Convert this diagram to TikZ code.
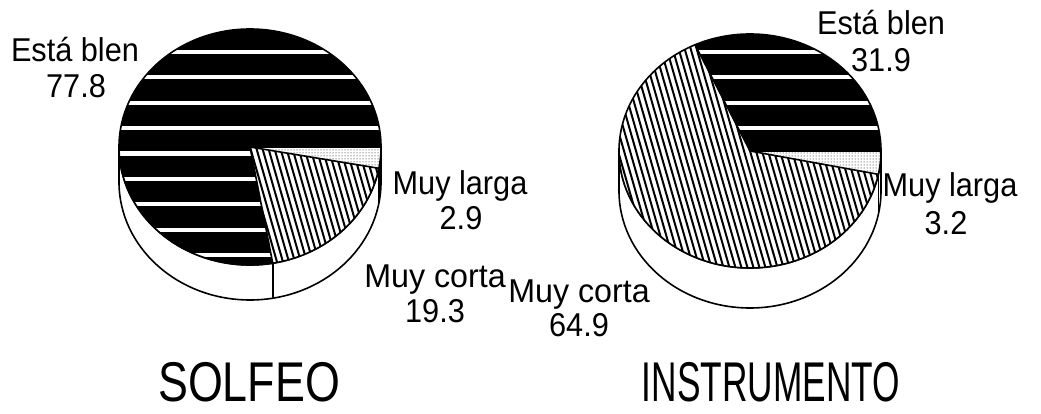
\documentclass[tikz,border=0pt]{standalone}
\usepackage{fontspec}
\setmainfont{Liberation Sans}
\newfontfamily\labfont{Liberation Sans}[FakeStretch=0.93]
\usetikzlibrary{patterns}
\begin{document}
\begin{tikzpicture}[x=1pt,y=1pt,
  outl/.style={black, line width=1.6pt, line join=round},
  stripe/.style={white, line width=4.2pt},
  hatchline/.style={black, line width=2pt},
  lab/.style={font=\labfont\fontsize{33}{36}\selectfont, inner sep=0pt, anchor=base},
  ttl/.style={font=\fontsize{56}{58}\selectfont, inner sep=0pt, text depth=0pt, anchor=base}]
\useasboundingbox (0,0) rectangle (1041,414);

% ---------------- left pie: SOLFEO ----------------
\begin{scope}[shift={(250,267)}]
  \draw[outl, fill=white] (-131,0) -- (-131,-35)
     arc[start angle=180,end angle=360,x radius=131,y radius=118] -- (131,0)
     arc[start angle=360,end angle=180,x radius=131,y radius=118] -- cycle;
  \draw[outl] (280:131 and 118) -- ++(0,-35);
  \draw[outl] (349.6:131 and 118) -- ++(0,-35);
  % Esta bien
  \fill[black] (0,0) -- (0:131 and 118) arc[start angle=0,end angle=280,x radius=131,y radius=118] -- cycle;
  \begin{scope}
    \clip (0,0) -- (0:131 and 118) arc[start angle=0,end angle=280,x radius=131,y radius=118] -- cycle;
    \foreach \k in {0,...,8} \draw[stripe] (-140,{95-25.4*\k}) -- (140,{95-25.4*\k});
  \end{scope}
  % Muy corta
  \fill[white] (0,0) -- (280:131 and 118) arc[start angle=280,end angle=349.6,x radius=131,y radius=118] -- cycle;
  \begin{scope}
    \clip (0,0) -- (280:131 and 118) arc[start angle=280,end angle=349.6,x radius=131,y radius=118] -- cycle;
    \foreach \k in {-40,...,40} \draw[hatchline] ({6*\k-57.4},200) -- ({6*\k+57.4},-200);
  \end{scope}
  % Muy larga
  \fill[white] (0,0) -- (349.6:131 and 118) arc[start angle=349.6,end angle=360,x radius=131,y radius=118] -- cycle;
  \fill[pattern=dots] (0,0) -- (349.6:131 and 118) arc[start angle=349.6,end angle=360,x radius=131,y radius=118] -- cycle;
  % outlines
  \draw[outl] (0,0) ellipse[x radius=131,y radius=118];
  \draw[outl] (280:131 and 118) -- (0,0) -- (0:131 and 118);
  \draw[outl] (0,0) -- (349.6:131 and 118);
\end{scope}

% ---------------- right pie: INSTRUMENTO ----------------
\begin{scope}[shift={(750,263)}]
  \draw[outl, fill=white] (-131,0) -- (-131,-40)
     arc[start angle=180,end angle=360,x radius=131,y radius=117] -- (131,0)
     arc[start angle=360,end angle=180,x radius=131,y radius=117] -- cycle;
  \draw[outl] (348.5:131 and 117) -- ++(0,-40);
  % Esta bien
  \fill[black] (0,0) -- (0:131 and 117) arc[start angle=0,end angle=114.8,x radius=131,y radius=117] -- cycle;
  \begin{scope}
    \clip (0,0) -- (0:131 and 117) arc[start angle=0,end angle=114.8,x radius=131,y radius=117] -- cycle;
    \foreach \k in {0,...,4} \draw[stripe] (-140,{99-25.4*\k}) -- (140,{99-25.4*\k});
  \end{scope}
  % Muy corta
  \fill[white] (0,0) -- (114.8:131 and 117) arc[start angle=114.8,end angle=348.5,x radius=131,y radius=117] -- cycle;
  \begin{scope}
    \clip (0,0) -- (114.8:131 and 117) arc[start angle=114.8,end angle=348.5,x radius=131,y radius=117] -- cycle;
    \foreach \k in {-40,...,40} \draw[hatchline] ({6*\k-57.4},200) -- ({6*\k+57.4},-200);
  \end{scope}
  % Muy larga
  \fill[white] (0,0) -- (348.5:131 and 117) arc[start angle=348.5,end angle=360,x radius=131,y radius=117] -- cycle;
  \fill[pattern=dots] (0,0) -- (348.5:131 and 117) arc[start angle=348.5,end angle=360,x radius=131,y radius=117] -- cycle;
  % outlines
  \draw[outl] (0,0) ellipse[x radius=131,y radius=117];
  \draw[outl] (114.8:131 and 117) -- (0,0) -- (0:131 and 117);
  \draw[outl] (0,0) -- (348.5:131 and 117);
\end{scope}

% ---------------- labels ----------------
\node[lab] (lEsta)   at (75,352)  {Está blen};
\node[lab] (lEstaV)  at (76,316)  {77.8};
\node[lab] (lLarga)  at (460,219) {Muy larga};
\node[lab] (lLargaV) at (461,184) {2.9};
\node[lab] (lCorta)  at (435,126) {\scalebox{1.05}[1]{Muy corta}};
\node[lab] (lCortaV) at (435,91)  {19.3};
\node[lab] (rCorta)  at (579,111) {\scalebox{1.05}[1]{Muy corta}};
\node[lab] (rCortaV) at (579,77)  {64.9};
\node[lab] (rEsta)   at (881,379) {Está blen};
\node[lab] (rEstaV)  at (881,342) {31.9};
\node[lab] (rLarga)  at (950,217) {Muy larga};
\node[lab] (rLargaV) at (946,179) {3.2};
\node[ttl] (tSol) at (249,12) {\scalebox{0.8}[1]{SOLFEO}};
\node[ttl] (tIns) at (771,12) {\scalebox{0.63}[1]{INSTRUMENTO}};
\end{tikzpicture}
\end{document}
